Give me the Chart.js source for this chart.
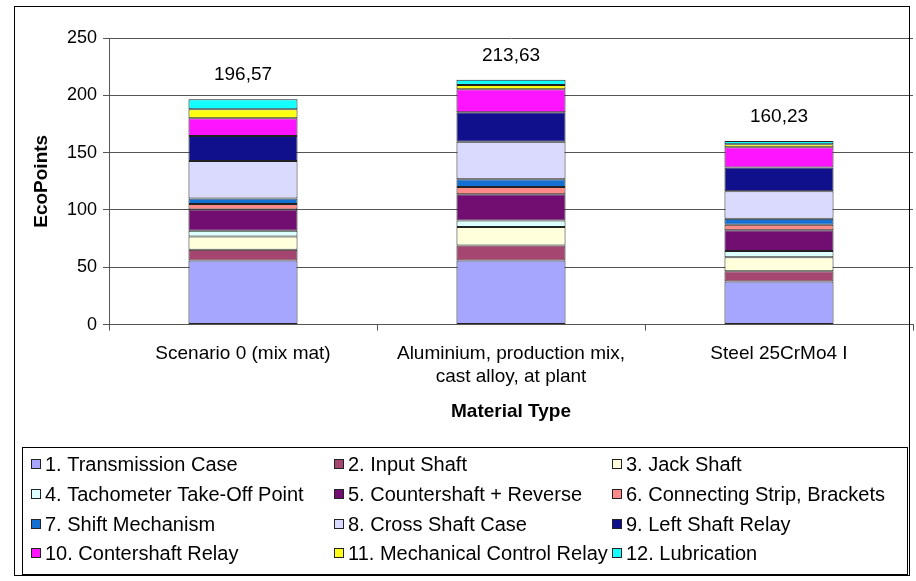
<!DOCTYPE html>
<html>
<head>
<meta charset="utf-8">
<script src="https://cdn.jsdelivr.net/npm/chart.js@4.4.1/dist/chart.umd.min.js"></script>
<style>
  html, body { margin: 0; padding: 0; background: #ffffff; }
  #wrap { position: relative; width: 916px; height: 581px; }
  canvas { display: block; }
</style>
</head>
<body>
<div id="wrap"><canvas id="c" width="916" height="581"></canvas></div>
<script>
const categories = ["Scenario 0 (mix mat)", ["Aluminium, production mix,", "cast alloy, at plant"], "Steel 25CrMo4 I"];
const seriesNames = [
  "1. Transmission Case", "2. Input Shaft", "3. Jack Shaft",
  "4. Tachometer Take-Off Point", "5. Countershaft + Reverse", "6. Connecting Strip, Brackets",
  "7. Shift Mechanism", "8. Cross Shaft Case", "9. Left Shaft Relay",
  "10. Contershaft Relay", "11. Mechanical Control Relay", "12. Lubrication"
];
const s1 = [55.9, 55.9, 37.6];
const s2 = [9.4, 13.2, 9.0];
const s3 = [11.6, 16.0, 12.2];
const s4 = [5.0, 5.8, 5.3];
const s5 = [18.4, 22.7, 18.1];
const s6 = [5.0, 6.4, 5.0];
const s7 = [4.8, 6.7, 5.2];
const s8 = [32.6, 32.7, 23.9];
const s9 = [21.9, 25.9, 20.7];
const s10 = [15.5, 19.9, 17.7];
const s11 = [7.8, 3.7, 2.6];
const s12 = [8.77, 4.73, 2.93];
const totals = [196.57, 213.63, 160.23];
const yTicks = [0, 50, 100, 150, 200, 250];

const seriesValues = [s1, s2, s3, s4, s5, s6, s7, s8, s9, s10, s11, s12];
const colors = ["#A6A6FF", "#A4466F", "#FFFFDC", "#DCFFFF", "#720E72", "#FF8A8A",
                "#1470D2", "#DADAFF", "#10108C", "#FF14FF", "#FFFF14", "#14FFFF"];

const FONT = "'Liberation Sans', Arial, sans-serif";

const totalsPlugin = {
  id: 'totals',
  afterDatasetsDraw(chart) {
    const ctx = chart.ctx;
    const meta = chart.getDatasetMeta(chart.data.datasets.length - 1);
    ctx.save();
    ctx.font = "19px " + FONT;
    ctx.fillStyle = "#000";
    ctx.textAlign = "center";
    ctx.textBaseline = "middle";
    meta.data.forEach((bar, i) => {
      const y = chart.scales.y.getPixelForValue(totals[i]);
      ctx.fillText(totals[i].toFixed(2).replace('.', ','), bar.x, y - 24);
    });
    ctx.restore();
  }
};

const framePlugin = {
  id: 'frame',
  afterDraw(chart) {
    const ctx = chart.ctx;
    ctx.save();
    ctx.strokeStyle = "#000";
    ctx.lineWidth = 1;
    ctx.strokeRect(14.5, 6.5, 895, 569);
    ctx.fillStyle = "#fff";
    ctx.fillRect(22, 447, 886, 128);
    ctx.strokeStyle = "#000";
    ctx.strokeRect(22.5, 447.5, 885, 127);
    ctx.font = "20px " + FONT;
    ctx.textBaseline = "middle";
    ctx.textAlign = "left";
    const colX = [31, 334, 612];
    const rowY = [464, 494, 524, 553];
    chart.data.datasets.forEach((ds, i) => {
      const col = i % 3, row = Math.floor(i / 3);
      const x = colX[col], y = rowY[row];
      ctx.fillStyle = ds.backgroundColor;
      ctx.fillRect(x, y - 5, 10, 10);
      ctx.strokeStyle = "#222";
      ctx.strokeRect(x + 0.5, y - 4.5, 9, 9);
      ctx.fillStyle = "#000";
      ctx.fillText(ds.label, x + 14, y + 1);
    });
    ctx.restore();
  }
};

new Chart(document.getElementById('c'), {
  type: 'bar',
  data: {
    labels: categories,
    datasets: seriesNames.map((name, i) => ({
      label: name,
      data: seriesValues[i],
      backgroundColor: colors[i],
      borderColor: "#222",
      borderWidth: 1,
      borderSkipped: false,
      barPercentage: 0.407,
      categoryPercentage: 1.0
    }))
  },
  options: {
    responsive: false,
    animation: false,
    devicePixelRatio: 1,
    layout: { padding: { left: 14, right: 3, top: 38, bottom: 158 } },
    plugins: {
      legend: { display: false },
      tooltip: { enabled: false }
    },
    scales: {
      x: {
        stacked: true,
        grid: { drawOnChartArea: false, drawTicks: true, tickLength: 6, offset: true, color: "#555" },
        border: { display: true, color: "#555" },
        ticks: { color: "#000", font: { family: FONT, size: 19 }, padding: 12, maxRotation: 0 },
        title: { display: true, text: "Material Type", color: "#000", font: { family: FONT, size: 19, weight: 'bold' }, padding: { top: 0, bottom: 0 } }
      },
      y: {
        stacked: true,
        min: 0, max: 250,
        afterBuildTicks(scale) { scale.ticks = yTicks.map(v => ({ value: v })); },
        afterFit(scale) { scale.width = 95; },
        grid: { color: "#555", tickLength: 6 },
        border: { display: true, color: "#555" },
        ticks: { color: "#000", font: { family: FONT, size: 18 }, padding: 6 },
        title: { display: true, text: "EcoPoints", color: "#000", font: { family: FONT, size: 19, weight: 'bold' }, padding: { top: 16, bottom: 4 } }
      }
    }
  },
  plugins: [totalsPlugin, framePlugin]
});
</script>
</body>
</html>
